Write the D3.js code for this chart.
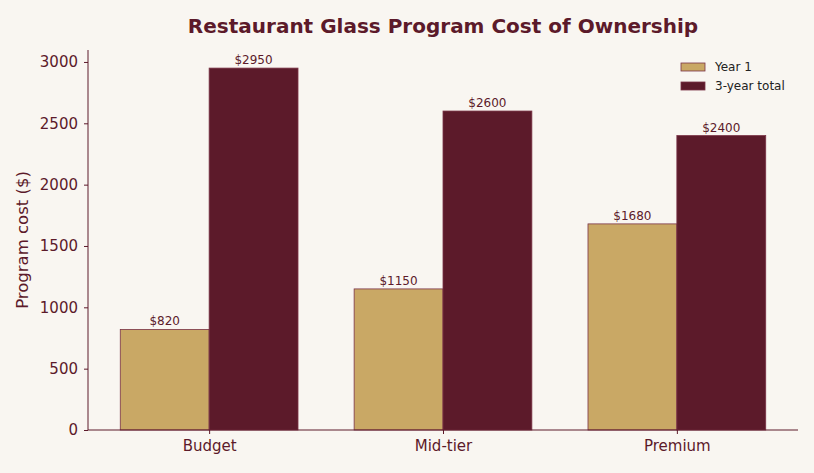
<!DOCTYPE html>
<html>
<head>
<meta charset="utf-8">
<script src="https://cdn.jsdelivr.net/npm/d3@7"></script>
<style>
  body { margin: 0; background: #f9f6f1; }
  svg { display: block; font-family: "DejaVu Sans", sans-serif; }
</style>
</head>
<body>
<script>
// chart data
var categories = ["Budget", "Mid-tier", "Premium"];
var year1 = [820, 1150, 1680];
var threeYear = [2950, 2600, 2400];
var seriesNames = ["Year 1", "3-year total"];
var yTicks = [0, 500, 1000, 1500, 2000, 2500, 3000];

var svgWidth = 814;
var svgHeight = 473;
var margin = { top: 50, right: 16, bottom: 43, left: 88 };
var width = svgWidth - margin.left - margin.right;
var height = svgHeight - margin.top - margin.bottom;

var tan = "#c9a865";
var maroon = "#5c1a2a";
var ink = "#5c1a2a";

var svg = d3.select("body")
  .append("svg")
  .attr("width", svgWidth)
  .attr("height", svgHeight);

svg.append("rect")
  .attr("width", svgWidth)
  .attr("height", svgHeight)
  .attr("fill", "#f9f6f1");

var chart = svg.append("g")
  .attr("transform", `translate(${margin.left}, ${margin.top})`);

// matplotlib style: bar width 0.38, 5% margins
var barW = 0.38;
var x = d3.scaleLinear()
  .domain([-barW - 0.138, categories.length - 1 + barW + 0.138])
  .range([0, width]);

var y = d3.scaleLinear()
  .domain([0, d3.max(threeYear) * 1.05])
  .range([height, 0]);

var rows = categories.map(function (c, i) {
  return { cat: c, i: i, y1: year1[i], y3: threeYear[i] };
});

// bars
chart.selectAll(".bar1")
  .data(rows)
  .enter()
  .append("rect")
  .attr("x", d => x(d.i - barW))
  .attr("y", d => y(d.y1))
  .attr("width", d => x(d.i) - x(d.i - barW))
  .attr("height", d => y(0) - y(d.y1))
  .attr("fill", tan)
  .attr("stroke", "#7a3346")
  .attr("stroke-width", 0.8);

chart.selectAll(".bar3")
  .data(rows)
  .enter()
  .append("rect")
  .attr("x", d => x(d.i))
  .attr("y", d => y(d.y3))
  .attr("width", d => x(d.i + barW) - x(d.i))
  .attr("height", d => y(0) - y(d.y3))
  .attr("fill", maroon)
  .attr("stroke", "#7a3346")
  .attr("stroke-width", 0.8);

// value labels
chart.selectAll(".lab1")
  .data(rows)
  .enter()
  .append("text")
  .attr("x", d => x(d.i - barW / 2))
  .attr("y", d => y(d.y1) - 4)
  .attr("text-anchor", "middle")
  .style("font-size", "12px")
  .style("fill", ink)
  .text(d => "$" + d.y1);

chart.selectAll(".lab3")
  .data(rows)
  .enter()
  .append("text")
  .attr("x", d => x(d.i + barW / 2))
  .attr("y", d => y(d.y3) - 4)
  .attr("text-anchor", "middle")
  .style("font-size", "12px")
  .style("fill", ink)
  .text(d => "$" + d.y3);

// axes
var xAxis = d3.axisBottom(x)
  .tickValues(d3.range(categories.length))
  .tickFormat(i => categories[i])
  .tickSize(4)
  .tickPadding(6);

var yAxis = d3.axisLeft(y)
  .tickValues(yTicks)
  .tickFormat(d3.format("d"))
  .tickSize(4)
  .tickPadding(6);

var gx = chart.append("g")
  .attr("transform", `translate(0, ${height})`)
  .call(xAxis);

var gy = chart.append("g")
  .call(yAxis);

[gx, gy].forEach(function (g) {
  g.select(".domain").attr("stroke", ink).attr("stroke-width", 1);
  g.selectAll(".tick line").attr("stroke", ink);
  g.selectAll(".tick text")
    .style("font-size", "15px")
    .style("font-family", "DejaVu Sans, sans-serif")
    .attr("fill", ink);
});
gx.select(".domain").attr("d", `M0,0H${width}`);
gy.select(".domain").attr("d", `M0,${height}V0`);

// axis label
chart.append("text")
  .attr("transform", "rotate(-90)")
  .attr("x", -height / 2)
  .attr("y", -60)
  .attr("text-anchor", "middle")
  .style("font-size", "16.5px")
  .style("fill", ink)
  .text("Program cost ($)");

// title
svg.append("text")
  .attr("x", margin.left + width / 2)
  .attr("y", 33)
  .attr("text-anchor", "middle")
  .style("font-size", "20px")
  .style("font-weight", "bold")
  .style("fill", ink)
  .text("Restaurant Glass Program Cost of Ownership");

// legend
var legend = svg.append("g")
  .attr("transform", "translate(681, 63)");

var legendColors = [tan, maroon];
seriesNames.forEach(function (name, i) {
  legend.append("rect")
    .attr("x", 0)
    .attr("y", i * 19)
    .attr("width", 24)
    .attr("height", 8)
    .attr("fill", legendColors[i])
    .attr("stroke", "#7a3346")
    .attr("stroke-width", 0.8);
  legend.append("text")
    .attr("x", 34)
    .attr("y", i * 19 + 8)
    .style("font-size", "12px")
    .style("fill", "#222")
    .text(name);
});
</script>
</body>
</html>
